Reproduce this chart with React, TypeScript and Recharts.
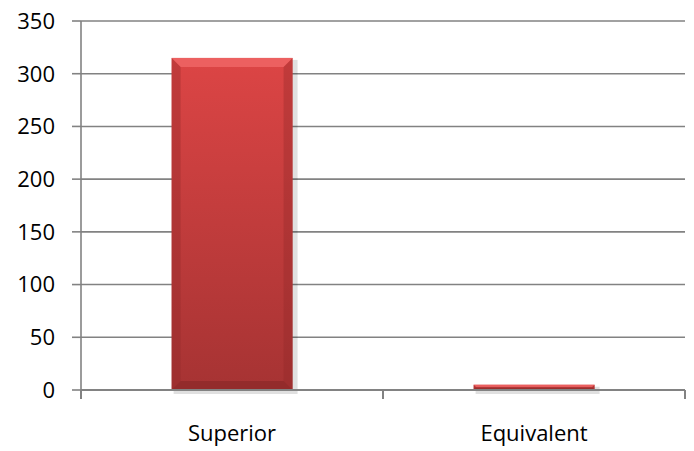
import React from 'react';
import { BarChart, Bar, XAxis, YAxis, CartesianGrid } from 'recharts';

const categories = ['Superior', 'Equivalent'];
const counts = [315, 5];
const yTicks = [0, 50, 100, 150, 200, 250, 300, 350];

const data = categories.map((name, i) => ({ name, value: counts[i] }));

const TICK_LEN = 9;
const LABEL_GAP = 26;

const BevelBar = (props: any) => {
  const { x, y, width, height } = props;
  if (!height || height <= 0) return null;
  const b = Math.min(9, height / 2, width / 2);
  return (
    <g>
      <rect x={x + 2} y={y + 2} width={width + 3} height={height + 2} fill="#000" opacity={0.12} />
      <rect x={x} y={y} width={width} height={height} fill="url(#barGrad)" />
      <polygon points={`${x},${y} ${x + width},${y} ${x + width - b},${y + b} ${x + b},${y + b}`} fill="#f26a6a" opacity={0.75} />
      <polygon points={`${x},${y} ${x + b},${y + b} ${x + b},${y + height - b} ${x},${y + height}`} fill="#8f2727" opacity={0.35} />
      <polygon points={`${x + width},${y} ${x + width - b},${y + b} ${x + width - b},${y + height - b} ${x + width},${y + height}`} fill="#8f2727" opacity={0.35} />
      <polygon points={`${x},${y + height} ${x + b},${y + height - b} ${x + width - b},${y + height - b} ${x + width},${y + height}`} fill="#7d2222" opacity={0.45} />
    </g>
  );
};

const CatTick = (props: any) => {
  const { x, y, payload, index, visibleTicksCount } = props;
  const half = payload && payload.offset ? payload.offset : 0;
  const axisY = y - TICK_LEN - LABEL_GAP;
  const isLast = visibleTicksCount ? index === visibleTicksCount - 1 : index === categories.length - 1;
  return (
    <g>
      <line x1={x - half} x2={x - half} y1={axisY} y2={axisY + TICK_LEN} stroke="#828282" strokeWidth={2} />
      {isLast && (
        <line x1={x + half} x2={x + half} y1={axisY} y2={axisY + TICK_LEN} stroke="#828282" strokeWidth={2} />
      )}
      <text x={x} y={y} dy="0.71em" textAnchor="middle" fill="#000" fontSize={22}>
        {payload.value}
      </text>
    </g>
  );
};

export default function App() {
  return (
    <div style={{ position: 'absolute', left: 0, top: 0, background: '#fff' }}>
      <BarChart
        width={694}
        height={451}
        data={data}
        margin={{ top: 21, right: 9, bottom: 0, left: 0 }}
        barCategoryGap="30%"
        style={{ fontFamily: '"Open Sans", sans-serif' }}
      >
        <defs>
          <linearGradient id="barGrad" x1="0" y1="0" x2="0" y2="1">
            <stop offset="0%" stopColor="#dc4545" />
            <stop offset="100%" stopColor="#a63333" />
          </linearGradient>
        </defs>
        <CartesianGrid vertical={false} stroke="#828282" strokeWidth={1.6} />
        <XAxis
          dataKey="name"
          height={61}
          axisLine={{ stroke: '#828282', strokeWidth: 2 }}
          tickLine={false}
          tickSize={TICK_LEN}
          tickMargin={LABEL_GAP}
          interval={0}
          tick={<CatTick />}
        />
        <YAxis
          domain={[0, 350]}
          ticks={yTicks}
          width={81}
          tickSize={9}
          tickMargin={17}
          stroke="#828282"
          strokeWidth={1.6}
          tick={{ fill: '#000', fontSize: 22 }}
          interval={0}
        />
        <Bar dataKey="value" shape={<BevelBar />} isAnimationActive={false} />
      </BarChart>
    </div>
  );
}
